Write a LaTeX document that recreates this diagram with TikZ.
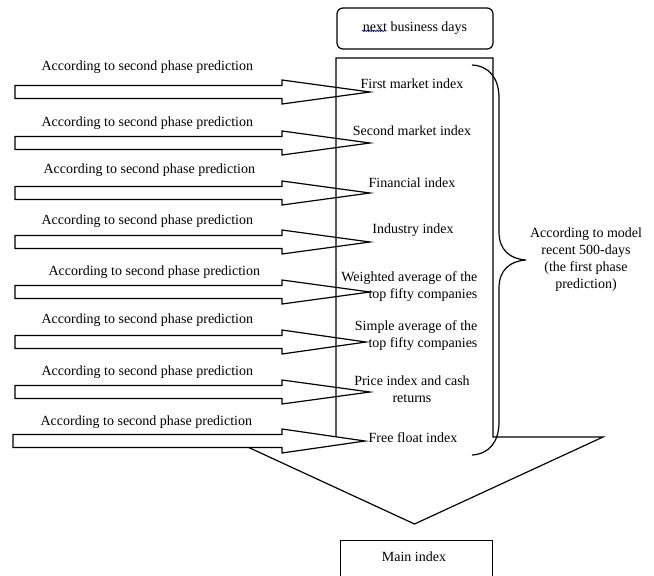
\documentclass[tikz,border=0pt]{standalone}
\usepackage{fontspec}
\setmainfont{Liberation Serif}
\usetikzlibrary{decorations.pathmorphing}
\newcommand{\blkarrow}[4]{%
  % #1 centre y, #2 tip x, #3 name, #4 left x
  \coordinate (tip#3) at (#2,#1);
  \path[blockarrow] (#4,#1-6.5) -- (282,#1-6.5) -- (282,#1-12) -- (tip#3)
     -- (282,#1+12) -- (282,#1+6.5) -- (#4,#1+6.5) -- cycle;}
\begin{document}
\begin{tikzpicture}[x=1pt,y=-1pt,line width=1.2pt,
  blockarrow/.style={draw=black,fill=white,line join=miter},
  lbl/.style={font=\fontsize{14}{17}\selectfont,inner sep=0pt},
  boxstyle/.style={draw=black,line width=1.2pt,inner sep=0pt}]
\useasboundingbox (0,0) rectangle (654,576);
\clip (0,0) rectangle (654,576);

% top box
\node[boxstyle,rounded corners=6pt,minimum width=156pt,minimum height=41pt,lbl,draw] (top) at (415,28.5) {next business days};
\draw[black!60!blue,line width=0.5pt,decorate,decoration={snake,amplitude=0.7pt,segment length=2.4pt}]
  ([yshift=-2.5pt]top.center -| 362,0) coordinate (w1) -- ++(24,0);

% left arrows 1-7
\blkarrow{92}{370}{a}{15}
\blkarrow{143}{370}{b}{15}
\blkarrow{193}{370}{c}{15}
\blkarrow{242}{370}{d}{15}
\blkarrow{292}{370}{e}{15}
\blkarrow{342}{366}{f}{15}
\blkarrow{392}{370}{g}{15}

% big down arrow
\coordinate (bigtip) at (414.5,524);
\draw[line join=miter] (336,58) -- (493,58) -- (493,437) -- (603,437) -- (bigtip)
   -- (226,437) -- (336,437) -- cycle;

% last arrow on top
\blkarrow{441}{365}{h}{13}

% brace
\draw (472,65) .. controls (489,66) and (499,78) .. (499,98) -- (499,232)
  .. controls (499,250) and (510,259) .. (526,260)
  .. controls (510,261) and (499,270) .. (499,288) -- (499,422)
  .. controls (499,442) and (489,454) .. (472,455);

% labels on the left
\node[lbl,anchor=west] (p1) at (41,67) {According to second phase prediction};
\node[lbl,anchor=west] (p2) at (41,123) {According to second phase prediction};
\node[lbl,anchor=west] (p3) at (43,170) {According to second phase prediction};
\node[lbl,anchor=west] (p4) at (41,221) {According to second phase prediction};
\node[lbl,anchor=west] (p5) at (48,272) {According to second phase prediction};
\node[lbl,anchor=west] (p6) at (41,320) {According to second phase prediction};
\node[lbl,anchor=west] (p7) at (41,372) {According to second phase prediction};
\node[lbl,anchor=west] (p8) at (40,422) {According to second phase prediction};

% index texts
\node[lbl] (i1) at (412,84) {First market index};
\node[lbl] (i2) at (412,131) {Second market index};
\node[lbl] (i3) at (412,183) {Financial index};
\node[lbl] (i4) at (413,230) {Industry index};
\node[lbl,align=right,anchor=east] (i5) at (478,287) {Weighted average of the\\top fifty companies};
\node[lbl,align=right,anchor=east] (i6) at (478,336) {Simple average of the\\top fifty companies};
\node[lbl,align=center] (i7) at (412,389) {Price index and cash\\returns};
\node[lbl] (i8) at (413,438) {Free float index};

% model text
\node[lbl,align=center] (model) at (586,260) {According to model\\recent 500-days\\(the first phase\\prediction)};

% main index box
\node[boxstyle,minimum width=152pt,minimum height=60pt,anchor=north west] (mainbox) at (340,540) {};
\node[lbl] (main) at (414,557) {Main index};
\end{tikzpicture}
\end{document}
